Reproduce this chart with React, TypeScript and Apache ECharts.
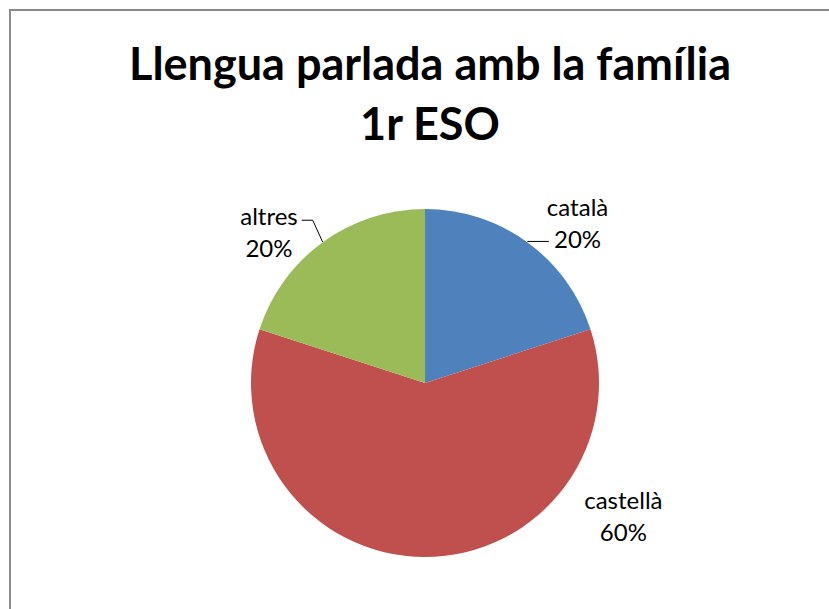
import React, { useEffect, useRef } from "react";
import * as echarts from "echarts";

const titleText = "Llengua parlada amb la família\n1r ESO";
const categories = ["català", "castellà", "altres"];
const values = [20, 60, 20];
const colors = ["#4F81BD", "#C0504D", "#9BBB59"];

const W = 829;
const H = 609;
const CX = 425;
const CY = 383;
const R = 174;
const FONT = "Lato, 'Open Sans', sans-serif";

export default function App() {
  const ref = useRef<HTMLDivElement>(null);
  useEffect(() => {
    if (!ref.current) return;
    const chart = echarts.init(ref.current, undefined, { renderer: "svg" });
    const lineSettings = [
      { show: true, length: 1, length2: 21 },
      { show: false },
      { show: true, length: 24, length2: 10 },
    ];
    chart.setOption({
      animation: false,
      backgroundColor: "#ffffff",
      title: {
        text: titleText,
        left: CX,
        textAlign: "center",
        top: 28,
        textStyle: {
          fontFamily: FONT,
          fontWeight: "bold",
          fontSize: 45,
          lineHeight: 60,
          color: "#000",
        },
      },
      graphic: [
        {
          type: "rect",
          shape: { x: 10, y: 10, width: W + 20, height: H + 20 },
          style: { fill: "none", stroke: "#8a8a8a", lineWidth: 2 },
          silent: true,
        },
      ],
      series: [
        {
          type: "pie",
          center: [CX, CY],
          radius: R,
          startAngle: 90,
          clockwise: true,
          avoidLabelOverlap: false,
          percentPrecision: 0,
          label: {
            show: true,
            position: "outside",
            formatter: "{b}\n{d}%",
            fontFamily: FONT,
            fontSize: 24,
            lineHeight: 32,
            color: "#000",
          },
          labelLine: {
            show: true,
            lineStyle: { color: "#000", width: 1 },
          },
          labelLayout: (params: any) => {
            const i = params.dataIndex;
            const r = params.labelRect;
            const pts = params.labelLinePoints;
            if (i === 0 && pts) {
              const end = pts[2];
              return {
                x: end[0] - 2 + r.width / 2,
                y: end[1] - 3 - 16,
                align: "center",
                verticalAlign: "middle",
                labelLinePoints: pts,
              };
            }
            if (i === 2 && pts) {
              const p0 = pts[0];
              const p1 = [p0[0] - 10, p0[1] - 22];
              const p2 = [p1[0] - 11, p1[1]];
              return {
                x: p2[0] - 4 - r.width / 2,
                y: p2[1] - 5 + 16,
                align: "center",
                verticalAlign: "middle",
                labelLinePoints: [p0, p1, p2],
              };
            }
            return {
              x: CX + R * 1.14,
              y: CY + R * 0.76,
              align: "center",
              verticalAlign: "middle",
            };
          },
          data: categories.map((name, i) => ({
            name,
            value: values[i],
            itemStyle: { color: colors[i] },
            labelLine: lineSettings[i],
          })),
        },
      ],
    });
    return () => chart.dispose();
  }, []);
  return (
    <div
      ref={ref}
      style={{ position: "fixed", left: 0, top: 0, width: W, height: H }}
    />
  );
}
